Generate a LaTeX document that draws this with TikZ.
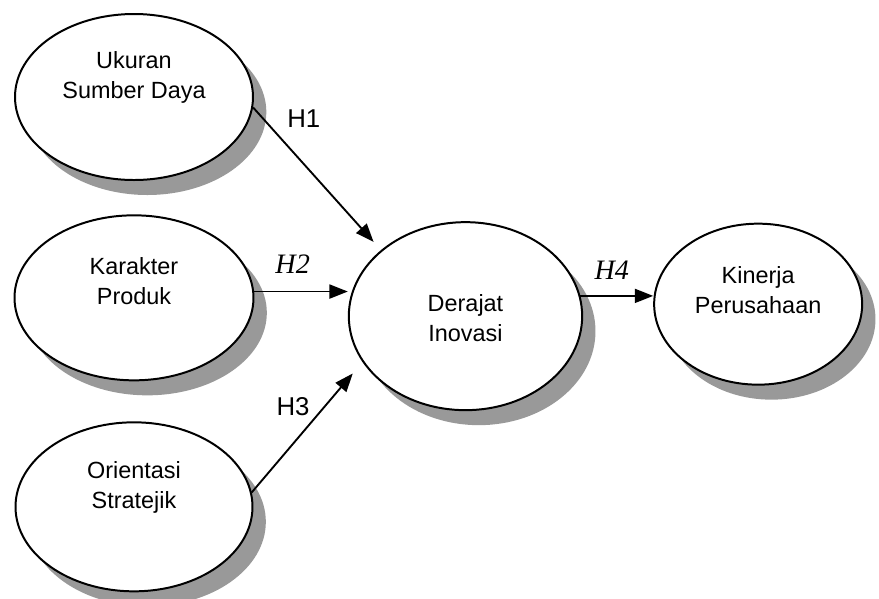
\documentclass[tikz,border=0pt]{standalone}
\usepackage{fontspec}
\newfontfamily\varsans{Liberation Sans}
\newfontfamily\varserif{Liberation Serif}
\usepackage{tikz}
\usetikzlibrary{shapes.geometric, arrows.meta, positioning, shadows}
\tikzset{
    varblock/.style={ellipse, draw=black, line width=1.7pt, fill=white, minimum width=7.14cm, minimum height=4.98cm,
        drop shadow={shadow xshift=0.4cm, shadow yshift=-0.45cm, fill=black!40, opacity=1}},
    vartext/.style={font=\varsans\fontsize{20}{25.5}\selectfont, align=center},
    arrow/.style={line width=1.6pt, -{Triangle[length=0.55cm, width=0.42cm]}, color=black},
    hyplabel/.style={font=\varsans\fontsize{22}{26}\selectfont},
    hypitalic/.style={font=\varserif\itshape\fontsize{24}{28}\selectfont}
}
\begin{document}
\begin{tikzpicture}[node distance=1cm]
    \useasboundingbox (0,0) rectangle (26.37,-17.94);
    \node (ukuran) [varblock, label={[vartext, yshift=0.6cm]center:{Ukuran\\Sumber Daya}}] at (4.02,-2.91) {};
    \node (karakter) [varblock, minimum width=7.17cm, minimum height=4.95cm, below=1cm of ukuran,
        label={[vartext, yshift=0.51cm]center:{Karakter\\Produk}}] {};
    \node (orientasi) [varblock, minimum width=7.11cm, minimum height=5.07cm, below=1.2cm of karakter,
        label={[vartext, yshift=0.57cm]center:{Orientasi\\Stratejik}}] {};
    \node (derajat) [varblock, minimum width=7cm, minimum height=5.64cm, right=2.8cm of karakter, yshift=-0.55cm,
        label={[vartext, yshift=-0.05cm]center:{Derajat\\Inovasi}}] {};
    \node (kinerja) [varblock, minimum width=6.24cm, minimum height=4.83cm, right=2.1cm of derajat, yshift=0.36cm,
        label={[vartext, yshift=0.42cm]center:{Kinerja\\Perusahaan}}] {};

    \draw [arrow, shorten >=0.33cm] (ukuran.-5) -- node[hyplabel, pos=0.1, right=0.5cm, yshift=0.1cm] {H1} (derajat.142);
    \draw [arrow] (karakter.3) -- node[hypitalic, above=0.4cm, xshift=-0.25cm] {H2} (karakter.3 -| derajat.west);
    \draw [arrow, shorten >=0.45cm] (orientasi.7) -- node[hyplabel, pos=0.55, above left, xshift=0.05cm] {H3} (derajat.204);
    \draw [arrow] (derajat.10) -- node[hypitalic, above=0.35cm, xshift=-0.15cm] {H4} (derajat.10 -| kinerja.west);
\end{tikzpicture}
\end{document}
